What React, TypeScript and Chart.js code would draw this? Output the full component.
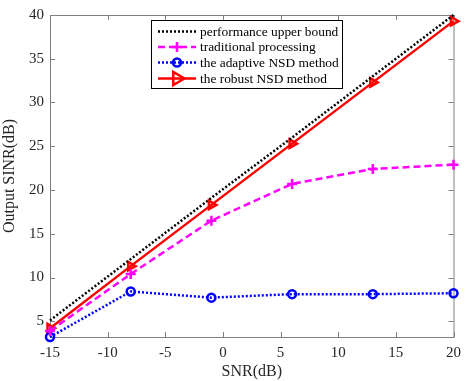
import React, { useEffect, useRef } from "react";
import { Chart, registerables } from "chart.js";
Chart.register(...registerables);

const snr = [-15, -8, -1, 6, 13, 20];
const upperBound = [5.1, 12.1, 19.1, 26.0, 33.0, 40.0];
const traditional = [3.9, 10.4, 16.5, 20.7, 22.4, 22.9];
const adaptiveNSD = [3.2, 8.4, 7.7, 8.1, 8.1, 8.2];
const robustNSD = [4.2, 11.3, 18.3, 25.3, 32.3, 39.3];
const seriesNames = [
  "performance upper bound",
  "traditional processing",
  "the adaptive NSD method",
  "the robust NSD method",
];
const yTicks = [5, 10, 15, 20, 25, 30, 35, 40];
const xTicks = [-15, -10, -5, 0, 5, 10, 15, 20];

const FONT = "'Liberation Serif', 'Times New Roman', serif";

function drawPoint(ctx: any, style: string, r: number, x: number, y: number, rot: number, color: string, w: number) {
  ctx.save();
  ctx.strokeStyle = color;
  ctx.lineWidth = w;
  ctx.setLineDash([]);
  ctx.translate(x, y);
  ctx.rotate((rot * Math.PI) / 180);
  ctx.beginPath();
  if (style === "circle") {
    ctx.arc(0, 0, r, 0, Math.PI * 2);
  } else if (style === "cross") {
    ctx.moveTo(-r, 0); ctx.lineTo(r, 0);
    ctx.moveTo(0, -r); ctx.lineTo(0, r);
  } else if (style === "triangle") {
    const s = r * 1.5;
    ctx.moveTo(0, -s);
    ctx.lineTo(s * 0.866, s * 0.5);
    ctx.lineTo(-s * 0.866, s * 0.5);
    ctx.closePath();
  }
  ctx.stroke();
  ctx.restore();
}

const framePlugin = {
  id: "frame",
  beforeDatasetsDraw(chart: any) {
    const { ctx, chartArea: a, scales } = chart;
    ctx.save();
    ctx.strokeStyle = "#808080";
    ctx.lineWidth = 1;
    ctx.strokeRect(a.left + 0.5, a.top + 0.5, a.right - a.left, a.bottom - a.top);
    const L = 5;
    ctx.beginPath();
    for (const v of xTicks) {
      const x = Math.round(scales.x.getPixelForValue(v)) + 0.5;
      ctx.moveTo(x, a.bottom);
      ctx.lineTo(x, a.bottom - L);
      ctx.moveTo(x, a.top);
      ctx.lineTo(x, a.top + L);
    }
    for (const v of yTicks) {
      const y = Math.round(scales.y.getPixelForValue(v)) + 0.5;
      ctx.moveTo(a.left, y);
      ctx.lineTo(a.left + L, y);
      ctx.moveTo(a.right, y);
      ctx.lineTo(a.right - L, y);
    }
    ctx.stroke();
    ctx.restore();
  },
  afterDraw(chart: any) {
    const { ctx } = chart;
    ctx.save();
    const bx = 151, by = 20, bw = 191, bh = 68;
    ctx.fillStyle = "#fff";
    ctx.fillRect(bx, by, bw, bh);
    ctx.strokeStyle = "#000";
    ctx.lineWidth = 1;
    ctx.strokeRect(bx + 0.5, by + 0.5, bw, bh);
    const rows = [31.5, 47, 62.5, 78.5];
    const ds = chart.data.datasets;
    ctx.font = "13.4px " + FONT;
    ctx.textBaseline = "middle";
    ctx.textAlign = "left";
    rows.forEach((ry: number, i: number) => {
      const d = ds[i];
      ctx.save();
      ctx.strokeStyle = d.borderColor;
      ctx.lineWidth = d.borderWidth;
      ctx.setLineDash(d.borderDash || []);
      ctx.beginPath();
      ctx.moveTo(158, ry);
      ctx.lineTo(196, ry);
      ctx.stroke();
      ctx.restore();
      if (d.pointRadius > 0) {
        drawPoint(ctx, d.pointStyle, d.pointRadius, 177, ry, d.pointRotation || 0, d.pointBorderColor, d.pointBorderWidth);
      }
      ctx.fillStyle = "#000";
      ctx.fillText(seriesNames[i], 200, ry + 0.5);
    });
    ctx.restore();
  },
};

export default function App() {
  const ref = useRef<HTMLCanvasElement>(null);
  useEffect(() => {
    document.body.style.margin = "0";
    const mk = (data: number[]) => data.map((v, i) => ({ x: snr[i], y: v }));
    const chart = new Chart(ref.current!, {
      type: "line",
      data: {
        datasets: [
          {
            label: seriesNames[0],
            data: mk(upperBound),
            borderColor: "#000000",
            backgroundColor: "#000000",
            borderWidth: 2.5,
            borderDash: [2, 2],
            pointRadius: 0,
            fill: false,
            clip: false,
          },
          {
            label: seriesNames[1],
            data: mk(traditional),
            borderColor: "#ff00ff",
            backgroundColor: "transparent",
            borderWidth: 2.5,
            borderDash: [7, 4],
            pointStyle: "cross",
            pointRadius: 5,
            pointBorderColor: "#ff00ff",
            pointBorderWidth: 2.5,
            fill: false,
            clip: false,
          },
          {
            label: seriesNames[2],
            data: mk(adaptiveNSD),
            borderColor: "#0000ff",
            backgroundColor: "transparent",
            borderWidth: 2.5,
            borderDash: [2, 2],
            pointStyle: "circle",
            pointRadius: 4,
            pointBorderColor: "#0000ff",
            pointBackgroundColor: "transparent",
            pointBorderWidth: 2.5,
            fill: false,
            clip: false,
          },
          {
            label: seriesNames[3],
            data: mk(robustNSD),
            borderColor: "#ff0000",
            backgroundColor: "transparent",
            borderWidth: 2.5,
            pointStyle: "triangle",
            pointRadius: 5,
            pointRotation: 90,
            pointBorderColor: "#ff0000",
            pointBackgroundColor: "transparent",
            pointBorderWidth: 2.5,
            fill: false,
            clip: false,
          },
        ] as any,
      },
      options: {
        animation: false,
        responsive: false,
        devicePixelRatio: 1,
        layout: { padding: { top: 14, right: 8, left: 0, bottom: 0 } },
        plugins: { legend: { display: false }, tooltip: { enabled: false } },
        elements: { line: { tension: 0 } },
        scales: {
          x: {
            type: "linear",
            min: -15,
            max: 20,
            grid: { display: false, drawTicks: false },
            border: { display: false },
            afterBuildTicks: (s: any) => { s.ticks = xTicks.map((v) => ({ value: v })); },
            afterFit: (s: any) => { s.height = 44; },
            ticks: { color: "#262626", font: { family: FONT, size: 15 }, padding: 7, maxRotation: 0 },
            title: { display: true, text: "SNR(dB)", color: "#262626", font: { family: FONT, size: 16 }, padding: { top: 0, bottom: 0 } },
          },
          y: {
            type: "linear",
            min: 3.2,
            max: 40,
            grid: { display: false, drawTicks: false },
            border: { display: false },
            afterBuildTicks: (s: any) => { s.ticks = yTicks.map((v) => ({ value: v })); },
            afterFit: (s: any) => { s.width = 50; },
            ticks: { color: "#262626", font: { family: FONT, size: 15 }, padding: 6 },
            title: { display: true, text: "Output SINR(dB)", color: "#262626", font: { family: FONT, size: 16 }, padding: { top: 0, bottom: 2 } },
          },
        },
      } as any,
      plugins: [framePlugin],
    });
    return () => chart.destroy();
  }, []);
  return <canvas ref={ref} width={468} height={381} style={{ display: "block" }} />;
}
